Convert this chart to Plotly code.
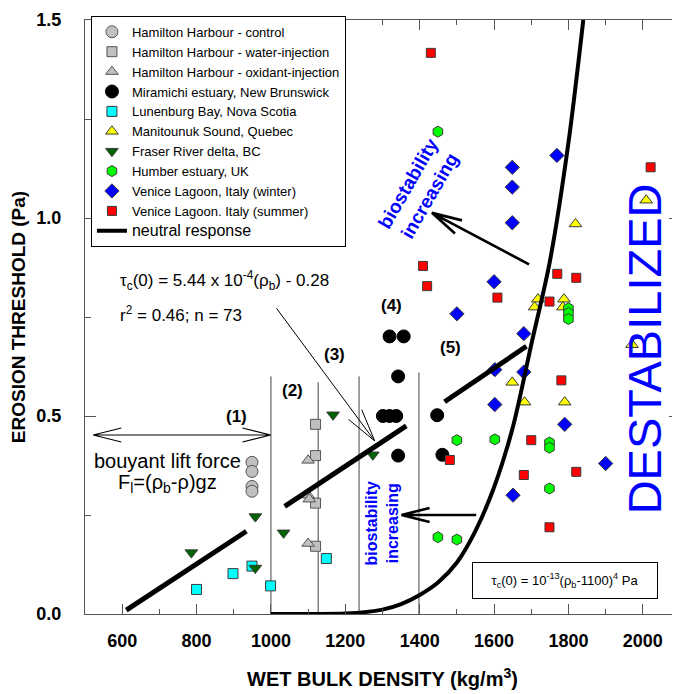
import math
import plotly.graph_objects as go

FONT = "Arial, 'Liberation Sans', sans-serif"

# ---------------- data ----------------
ham_ctrl_x = [949, 949, 949, 949]
ham_ctrl_y = [0.383, 0.360, 0.322, 0.310]

ham_water_x = [1120, 1120, 1120, 1120]
ham_water_y = [0.479, 0.400, 0.280, 0.171]

ham_oxid_x = [1100, 1100, 1103, 1100]
ham_oxid_y = [0.388, 0.300, 0.290, 0.178]

mira_x = [1319, 1357, 1342, 1301, 1319, 1337, 1342, 1447, 1461]
mira_y = [0.701, 0.701, 0.600, 0.500, 0.500, 0.500, 0.400, 0.502, 0.402]

lunen_x = [800, 898, 949, 999, 1149]
lunen_y = [0.062, 0.102, 0.121, 0.071, 0.140]

manit_x = [2009, 1819, 1718, 1709, 1788, 1785, 1649, 1682, 1790, 1971]
manit_y = [1.045, 0.985, 0.795, 0.775, 0.795, 0.775, 0.585, 0.535, 0.535, 0.680]

fraser_x = [786, 958, 958, 1034, 1167, 1274]
fraser_y = [0.155, 0.246, 0.116, 0.205, 0.503, 0.402]

humber_x = [1449, 1800, 1800, 1800, 1500, 1602, 1749, 1749, 1749, 1449, 1500]
humber_y = [1.218, 0.772, 0.760, 0.745, 0.439, 0.441, 0.433, 0.420, 0.317, 0.194, 0.188]

vw_x = [1769, 1649, 1649, 1649, 1600, 1500, 1680, 1602, 1680, 1602, 1790, 1900, 1651]
vw_y = [1.158, 1.128, 1.078, 0.988, 0.839, 0.758, 0.708, 0.617, 0.611, 0.529, 0.479, 0.380, 0.300]

vs_x = [1430, 2021, 1409, 1420, 1770, 1821, 1609, 1749, 1781, 1700, 1481, 1680, 1821, 1749]
vs_y = [1.417, 1.128, 0.879, 0.828, 0.859, 0.849, 0.799, 0.789, 0.590, 0.439, 0.389, 0.351, 0.359, 0.219]

# neutral response curve
curve_x = [1000, 1100, 1200, 1300, 1350, 1400, 1450, 1500, 1550, 1600, 1650, 1700, 1750, 1800, 1840]
curve_y = [0.0, 0.0, 0.001, 0.011, 0.025, 0.048, 0.08, 0.13, 0.21, 0.32, 0.47, 0.68, 0.89, 1.19, 1.50]

# regression line segments (start/end)
reg_x0 = [611, 1037, 1467]
reg_y0 = [0.010, 0.272, 0.536]
reg_x1 = [934, 1364, 1687]
reg_y1 = [0.209, 0.475, 0.676]

# zone boundaries
zone_x = [1000, 1127, 1237, 1398]
zone_top = [0.60, 0.585, 0.60, 0.61]

x_ticks = [600, 800, 1000, 1200, 1400, 1600, 1800, 2000]
y_ticks = [0.0, 0.5, 1.0, 1.5]

# ---------------- geometry (page has an 8px body margin) ----------------
W, H = 680, 694
ML, MR, MT, MB = 77, 8, 9, 88
PW, PH = W - ML - MR, H - MT - MB
XR, YR = (500, 2100), (0, 1.5)


def d2p(x, y):
    return (ML + (x - XR[0]) / (XR[1] - XR[0]) * PW,
            MT + (YR[1] - y) / (YR[1] - YR[0]) * PH)


def p2d(px, py):
    return (XR[0] + (px - ML) / PW * (XR[1] - XR[0]),
            YR[1] - (py - MT) / PH * (YR[1] - YR[0]))


def head(tip, tail, L=29, ang=14):
    tx, ty = d2p(*tip)
    sx, sy = d2p(*tail)
    a = math.atan2(sy - ty, sx - tx)
    pts = []
    for s in (1, -1):
        b = a + s * math.radians(ang)
        pts.append(p2d(tx + L * math.cos(b), ty + L * math.sin(b)))
    (x1, y1), (x2, y2) = pts
    return f"M{x1},{y1} L{tip[0]},{tip[1]} L{x2},{y2}"


def arrow_shape(tip, tail, width, both=False, L=29):
    path = f"M{tail[0]},{tail[1]} L{tip[0]},{tip[1]} " + head(tip, tail, L)
    if both:
        path += " " + head(tail, tip, L)
    return dict(type="path", xref="x", yref="y", path=path,
                line=dict(color="black", width=width), layer="above")


fig = go.Figure()

OUT = "#3a3a3a"


def add(x, y, name, symbol, size, color, lc=OUT):
    fig.add_trace(go.Scatter(x=x, y=y, mode="markers", name=name,
                             marker=dict(symbol=symbol, size=size, color=color,
                                         line=dict(color=lc, width=1))))


add(ham_ctrl_x, ham_ctrl_y, "Hamilton Harbour - control", "circle", 12, "#c0c0c0", "#555555")
add(ham_water_x, ham_water_y, "Hamilton Harbour - water-injection", "square", 10, "#c0c0c0", "#555555")
add(ham_oxid_x, ham_oxid_y, "Hamilton Harbour - oxidant-injection", "triangle-up", 11, "#c0c0c0", "#555555")
add(mira_x, mira_y, "Miramichi estuary, New Brunswick", "circle", 13, "black", "black")
add(lunen_x, lunen_y, "Lunenburg Bay, Nova Scotia", "square", 10, "#00ffff")
add(manit_x, manit_y, "Manitounuk Sound, Quebec", "triangle-up", 11, "#ffff00")
add(fraser_x, fraser_y, "Fraser River delta, BC", "triangle-down", 11, "#006400")
add(humber_x, humber_y, "Humber estuary, UK", "hexagon", 11, "#00ff00")
add(vw_x, vw_y, "Venice Lagoon, Italy (winter)", "diamond", 11, "#0000ff")
add(vs_x, vs_y, "Venice Lagoon. Italy (summer)", "square", 9, "#ff0000")

# regression segments
rx, ry = [], []
for a, b, c, d in zip(reg_x0, reg_y0, reg_x1, reg_y1):
    rx += [a, c, None]
    ry += [b, d, None]
fig.add_trace(go.Scatter(x=rx, y=ry, mode="lines", showlegend=False,
                         line=dict(color="black", width=5)))

fig.add_trace(go.Scatter(x=curve_x, y=curve_y, mode="lines",
                         name="<span style='font-size:16px'>neutral response</span>",
                         line=dict(color="black", width=4, shape="spline", smoothing=0.8)))

shapes = []
for zx, zt in zip(zone_x, zone_top):
    shapes.append(dict(type="line", xref="x", yref="y", x0=zx, x1=zx, y0=0, y1=zt,
                       line=dict(color="#444444", width=1), layer="below"))

shapes.append(arrow_shape((522, 0.452), (999, 0.452), 1.2, both=True, L=29))
shapes.append(arrow_shape((1433, 1.013), (1694, 0.883), 2.7, L=31))
shapes.append(arrow_shape((1351, 0.25), (1552, 0.25), 2.7, L=29))
shapes.append(arrow_shape((1279, 0.437), (1015, 0.772), 1, L=34))

ann = []


def txt(x, y, text, size, color="black", bold=False, angle=0, **kw):
    ann.append(dict(x=x, y=y, xref="x", yref="y", text=text, showarrow=False,
                    textangle=angle,
                    font=dict(family=FONT, size=size, color=color,
                              weight="bold" if bold else "normal"), **kw))


for lab, lx, ly in [("(1)", 907, 0.50), ("(2)", 1058, 0.565), ("(3)", 1171, 0.655),
                    ("(4)", 1324, 0.78), ("(5)", 1483, 0.674)]:
    txt(lx, ly, lab, 17, bold=True)

txt(723, 0.387, "bouyant lift force", 20)
txt(723, 0.330, "F<sub>l</sub>=(ρ<sub>b</sub>-ρ)gz", 20)
txt(588, 0.842, "τ<sub>c</sub>(0) = 5.44 x 10<sup>-4</sup>(ρ<sub>b</sub>) - 0.28", 17,
    xanchor="left", align="left")
txt(588, 0.757, "r<sup>2</sup> = 0.46; n = 73", 17, xanchor="left", align="left")
txt(1299, 0.229, "biostability<br>increasing", 16, color="#0000ff", bold=True, angle=-90)
txt(1400, 1.072, "biostability<br>increasing", 19, color="#0000ff", bold=True, angle=-60)
txt(2005, 0.670, "DESTABILIZED", 47, color="#0000ff", angle=-90)
ann.append(dict(x=1791, y=0.0854, xref="x", yref="y", showarrow=False,
                text="τ<sub>c</sub>(0) = 10<sup>-13</sup>(ρ<sub>b</sub>-1100)<sup>4</sup> Pa",
                font=dict(family=FONT, size=13, color="black"),
                bordercolor="black", borderwidth=1, borderpad=3, bgcolor="white",
                width=178, height=29))

axis_common = dict(showline=True, linecolor="#555555", linewidth=1, mirror="allticks",
                   ticks="inside", tickcolor="#555555", showgrid=False, zeroline=False,
                   automargin=False,
                   tickfont=dict(family=FONT, size=18, color="black", weight="bold"))

fig.update_layout(
    width=W, height=H,
    margin=dict(l=ML, r=MR, t=MT, b=MB),
    paper_bgcolor="white", plot_bgcolor="white",
    font=dict(family=FONT, color="black"),
    shapes=shapes, annotations=ann,
    xaxis=dict(range=list(XR), tickvals=x_ticks, ticklen=10, ticklabelstandoff=10,
               minor=dict(dtick=100, tick0=500, ticks="inside", ticklen=5, tickcolor="#555555"),
               title=dict(text="WET BULK DENSITY (kg/m<sup>3</sup>)", standoff=22,
                          font=dict(family=FONT, size=20, weight="bold")),
               **axis_common),
    yaxis=dict(range=list(YR), tickvals=y_ticks, tickformat=".1f", ticklen=11,
               ticklabelstandoff=19,
               minor=dict(dtick=0.25, ticks="inside", ticklen=6, tickcolor="#555555"),
               title=dict(text="EROSION THRESHOLD (Pa)", standoff=9,
                          font=dict(family=FONT, size=19, weight="bold")),
               **axis_common),
    legend=dict(x=0.01, y=1.007, xanchor="left", yanchor="top",
                bgcolor="white", bordercolor="black", borderwidth=1,
                font=dict(family=FONT, size=13, color="black"),
                tracegroupgap=0),
)

fig.write_html("out.html")
